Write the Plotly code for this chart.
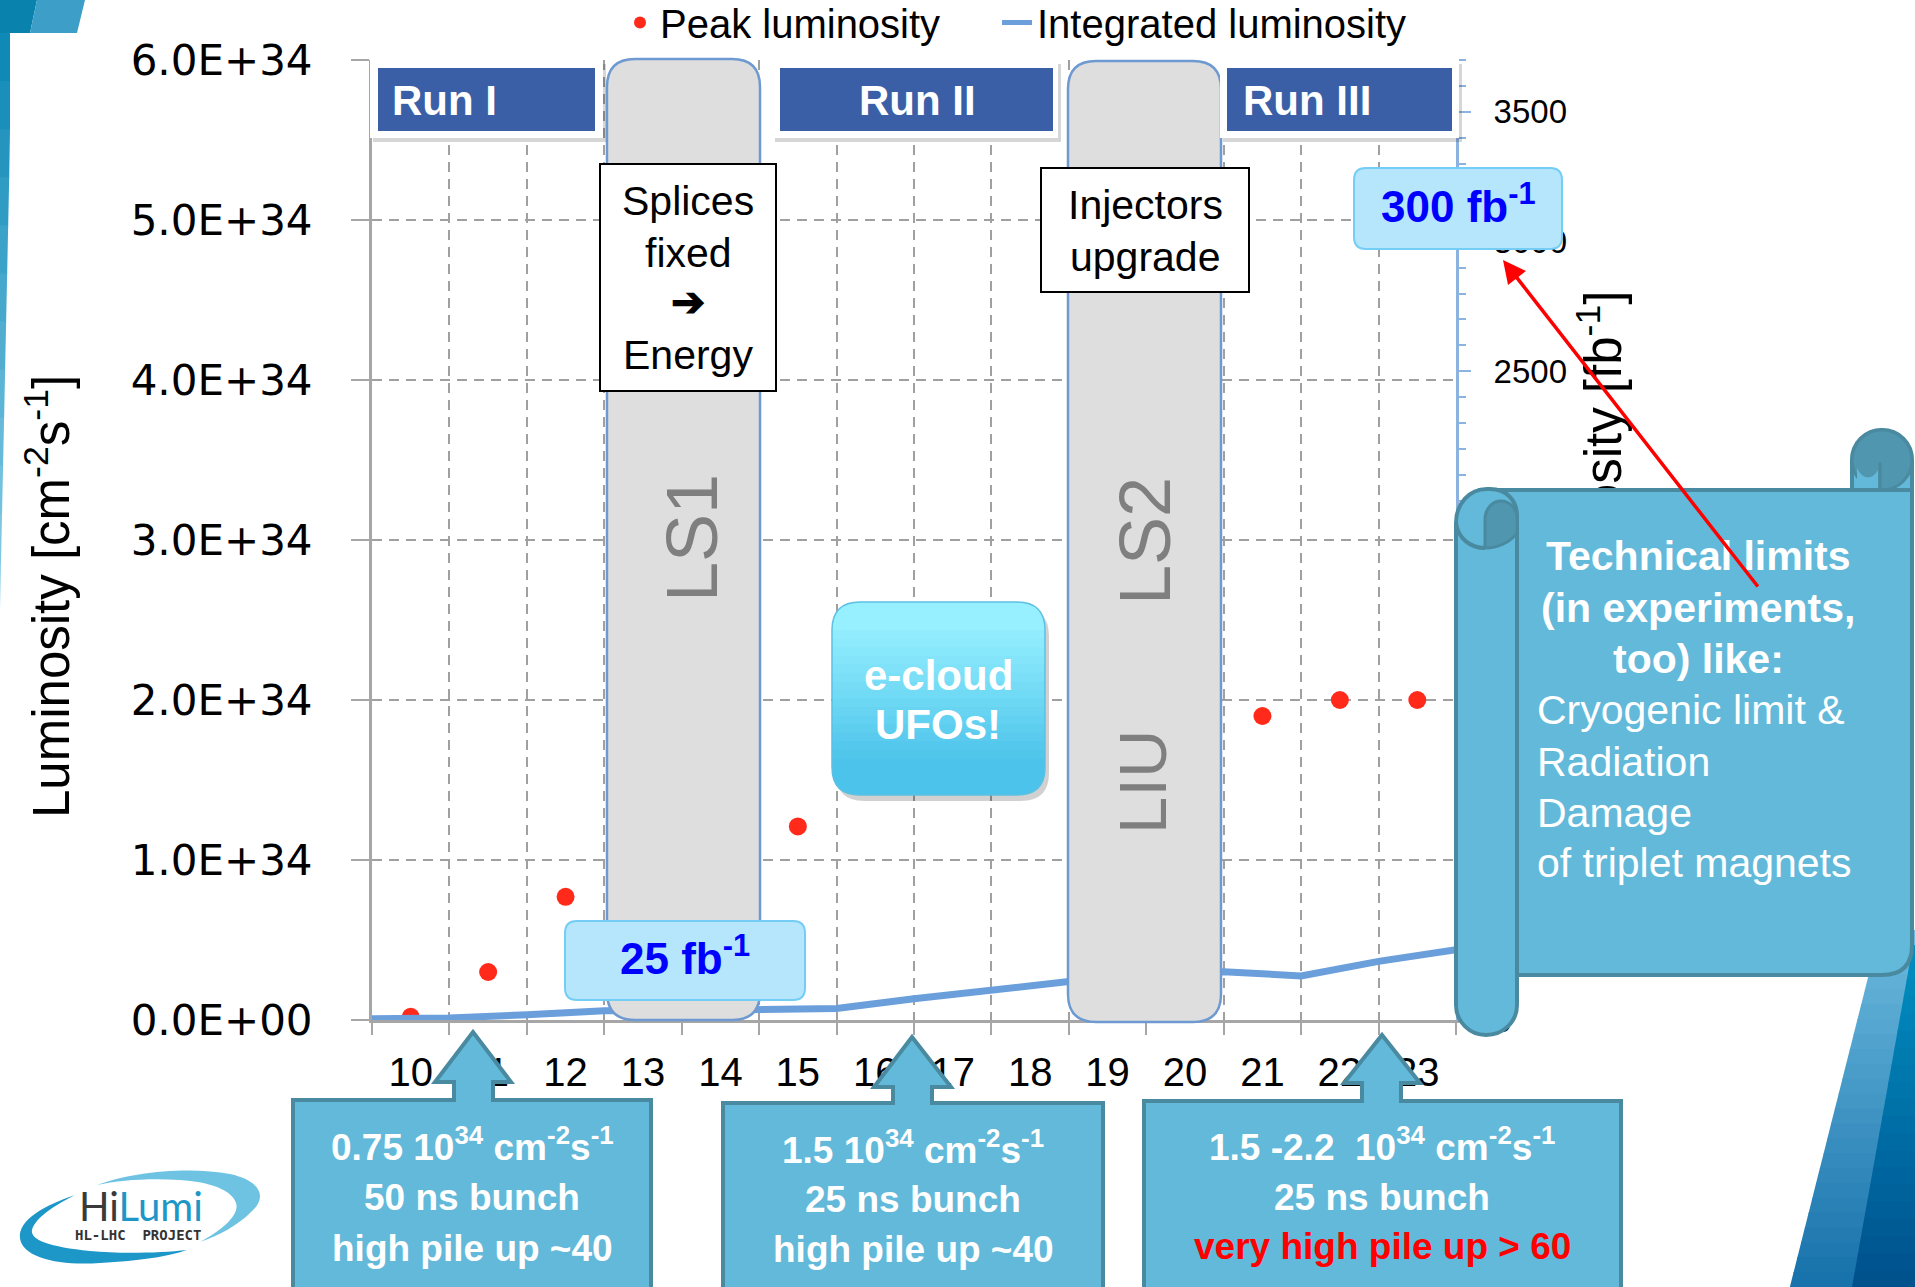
import plotly.graph_objects as go

W, H = 1915, 1287

# ---------------- data ----------------
years = list(range(10, 24))
year_labels = [str(y) for y in years]

peak_years = [10, 11, 12, 15, 21, 22, 23]
peak_lumi = [0.02e34, 0.30e34, 0.77e34, 1.21e34, 1.90e34, 2.00e34, 2.00e34]

int_edges = [9.5, 10.5, 11.5, 12.5, 13.5, 14.5, 15.5, 16.5, 17.5, 18.5, 19.5, 20.5, 21.5, 22.5, 23.5]
int_lumi = [5, 8, 20, 36, 36, 38, 44, 82, 115, 148, 168, 186, 170, 226, 271]

lumi_tickvals = [0, 1e34, 2e34, 3e34, 4e34, 5e34, 6e34]
lumi_ticktext = ["0.0E+00", "1.0E+34", "2.0E+34", "3.0E+34", "4.0E+34", "5.0E+34", "6.0E+34"]
int_tickvals = [0, 500, 1000, 1500, 2000, 2500, 3000, 3500]
int_ticktext = [str(v) for v in int_tickvals]

# ---------------- fonts / colours ----------------
ARIAL = "Liberation Sans, Arial, sans-serif"
NARROW = "Liberation Sans Narrow, Arial Narrow, Liberation Sans, sans-serif"
DEJAVU = "DejaVu Sans, Verdana, sans-serif"

RUN_BLUE = "#3a5fa7"
CALLOUT_FILL = "#63b9d9"
CALLOUT_LINE = "#4a8aa0"
CURL_DARK = "#4f96ae"
GRID = "#a0a0a0"

# plot area in pixels
PX0, PX1, PY0, PY1 = 372, 1456, 60, 1020


def P(x, y):
    return f"{x / W:.5f},{1 - y / H:.5f}"


def path(*segs):
    out = []
    for s in segs:
        cmd, pts = s[0], s[1:]
        coords = " ".join(P(pts[i], pts[i + 1]) for i in range(0, len(pts), 2))
        out.append(cmd + coords)
    return " ".join(out)


def rrect(x0, y0, x1, y1, r):
    return path(("M", x0 + r, y0), ("L", x1 - r, y0), ("Q", x1, y0, x1, y0 + r),
                ("L", x1, y1 - r), ("Q", x1, y1, x1 - r, y1), ("L", x0 + r, y1),
                ("Q", x0, y1, x0, y1 - r), ("L", x0, y0 + r), ("Q", x0, y0, x0 + r, y0), ("Z",))


def mix(c1, c2, t):
    a = [int(c1[i:i + 2], 16) for i in (1, 3, 5)]
    b = [int(c2[i:i + 2], 16) for i in (1, 3, 5)]
    return "#" + "".join(f"{round(a[k] + (b[k] - a[k]) * t):02x}" for k in range(3))


shapes = []


def add_path(p, fill, line_color=None, lw=0):
    shapes.append(dict(type="path", xref="paper", yref="paper", path=p, fillcolor=fill,
                       line=dict(color=line_color or "rgba(0,0,0,0)", width=lw), layer="above"))


def add_rect(x0, y0, x1, y1, fill, line_color=None, lw=0):
    shapes.append(dict(type="rect", xref="paper", yref="paper", x0=x0 / W, x1=x1 / W,
                       y0=1 - y1 / H, y1=1 - y0 / H, fillcolor=fill,
                       line=dict(color=line_color or "rgba(0,0,0,0)", width=lw), layer="above"))


def add_line(x0, y0, x1, y1, color, lw):
    shapes.append(dict(type="line", xref="paper", yref="paper", x0=x0 / W, x1=x1 / W,
                       y0=1 - y0 / H, y1=1 - y1 / H, line=dict(color=color, width=lw), layer="above"))


def gradient_band(ytop, ybot, left_fn, right_fn, ctop, cbot, n):
    for k in range(n):
        ya = ytop + (ybot - ytop) * k / n
        yb = ytop + (ybot - ytop) * (k + 1) / n + (1.0 if k < n - 1 else 0)
        add_path(path(("M", left_fn(ya), ya), ("L", right_fn(ya), ya), ("L", right_fn(yb), yb),
                      ("L", left_fn(yb), yb), ("Z",)), mix(ctop, cbot, (k + 0.5) / n))


# ---- slide decoration: top-left corner and left strip ----
add_path(path(("M", 0, 0), ("L", 37, 0), ("L", 30, 33), ("L", 0, 33), ("Z",)), "#0a82ae")
add_path(path(("M", 37, 0), ("L", 85, 0), ("L", 77, 33), ("L", 30, 33), ("Z",)), "#3d9fc7")
gradient_band(33, 610, lambda y: 0,
              lambda y: 10 if y <= 140 else max(0.0, 10 - 10 * (y - 140) / 470),
              "#0a86b4", "#8dd0ea", 12)

# ---- slide decoration: bottom-right wedge ----
gradient_band(930, 1287, lambda y: 1880 - (y - 930) * 0.2524, lambda y: 1915,
              "#6cbade", "#1670aa", 24)
gradient_band(945, 1287, lambda y: min(1915, 1912 - (y - 950) * 0.178), lambda y: 1915,
              "#0090c2", "#00508c", 20)

# ---- long shutdowns ----
add_path(rrect(607, 59, 760, 1020, 28), "#dedede", "#6e9ad1", 2.5)
add_path(rrect(1068, 61, 1221, 1022, 28), "#dedede", "#6e9ad1", 2.5)

# ---- run banners ----
for (wx0, wx1, bx0, bx1) in [(370, 603, 378, 595), (772, 1058, 780, 1053), (1220, 1459, 1227, 1452)]:
    add_rect(wx0 + 3, 64, wx1 + 3, 142, "rgba(0,0,0,0.16)")
    add_rect(wx0, 60, wx1, 138, "white")
    add_rect(bx0, 68, bx1, 131, RUN_BLUE)

# ---- text boxes ----
add_rect(600, 164, 776, 391, "white", "black", 2)
add_rect(1041, 168, 1249, 292, "white", "black", 2)
add_path(rrect(565, 921, 805, 1000, 12), "#b5e6fb", "#73cdf5", 2)
add_path(rrect(1354, 168, 1562, 249, 12), "#b5e6fb", "#73cdf5", 2)

# ---- e-cloud box with vertical gradient ----
EX0, EY0, EX1, EY1, ER = 832, 602, 1045, 795, 28
add_path(rrect(EX0 + 4, EY0 + 6, EX1 + 4, EY1 + 6, ER), "rgba(0,0,0,0.18)")
add_path(rrect(EX0, EY0, EX1, EY1, ER), "#96f0ff")
NB = 16
step = (EY1 - ER - (EY0 + ER)) / NB
for k in range(NB):
    yk = EY0 + ER + k * step
    add_path(path(("M", EX0, yk), ("L", EX1, yk), ("L", EX1, EY1 - ER), ("Q", EX1, EY1, EX1 - ER, EY1),
                  ("L", EX0 + ER, EY1), ("Q", EX0, EY1, EX0, EY1 - ER), ("Z",)),
             mix("#96f0ff", "#4cc3ea", (k + 1) / NB))
add_path(rrect(EX0, EY0, EX1, EY1, ER), "rgba(0,0,0,0)", "#5cc0e4", 1.5)


# ---- upward callouts under the axis ----
def callout(x0, x1, yt, sx0, sx1, hb, hx0, hx1, tx, ty):
    add_path(path(("M", x0, 1300), ("L", x0, yt), ("L", sx0, yt), ("L", sx0, hb), ("L", hx0, hb),
                  ("L", tx, ty), ("L", hx1, hb), ("L", sx1, hb), ("L", sx1, yt), ("L", x1, yt),
                  ("L", x1, 1300), ("Z",)), CALLOUT_FILL, CALLOUT_LINE, 4)


callout(293, 651, 1100, 454, 493, 1082, 435, 511, 473, 1032)
callout(723, 1103, 1103, 893, 932, 1087, 874, 951, 912, 1037)
callout(1144, 1621, 1101, 1362, 1401, 1083, 1344, 1420, 1382, 1035)

# ---- scroll ----
add_path(path(("M", 1480, 490), ("L", 1852, 490), ("L", 1852, 460), ("C", 1852, 443, 1865, 430, 1882, 430),
              ("C", 1899, 430, 1912, 443, 1912, 460), ("L", 1912, 945), ("Q", 1912, 975, 1882, 975),
              ("L", 1480, 975), ("Z",)), CALLOUT_FILL, CALLOUT_LINE, 4)
shapes.append(dict(type="circle", xref="paper", yref="paper", x0=1852 / W, x1=1912 / W,
                   y0=1 - 490 / H, y1=1 - 430 / H, fillcolor=CURL_DARK,
                   line=dict(color=CALLOUT_LINE, width=3), layer="above"))
add_path(path(("M", 1857, 488), ("L", 1857, 468), ("C", 1862, 479, 1872, 481, 1878, 470),
              ("L", 1878, 488), ("Z",)), CALLOUT_FILL)
add_line(1880, 462, 1880, 488, CALLOUT_LINE, 3)
add_line(1852, 490, 1912, 490, CALLOUT_LINE, 4)
add_path(path(("M", 1456, 523), ("C", 1456, 504, 1469, 489, 1487, 489), ("L", 1490, 489),
              ("C", 1506, 489, 1517, 500, 1517, 516), ("L", 1517, 1005),
              ("C", 1517, 1022, 1503, 1035, 1486, 1035), ("C", 1470, 1035, 1456, 1022, 1456, 1005), ("Z",)),
         CALLOUT_FILL, CALLOUT_LINE, 4)
add_path(path(("M", 1485, 548), ("L", 1485, 520), ("C", 1485, 509, 1492, 501, 1501, 501),
              ("C", 1510, 501, 1517, 509, 1517, 518), ("L", 1517, 533), ("C", 1510, 543, 1497, 548, 1485, 548),
              ("Z",)), CURL_DARK, CALLOUT_LINE, 3)
add_path(path(("M", 1456, 523), ("C", 1458, 538, 1470, 548, 1485, 548)), "rgba(0,0,0,0)", CALLOUT_LINE, 4)

# ---- HiLumi logo swooshes ----
add_path(path(("M", 75, 1195), ("C", 45, 1205, 18, 1220, 20, 1238), ("C", 22, 1258, 60, 1266, 100, 1263),
              ("C", 140, 1261, 170, 1256, 187, 1250), ("C", 160, 1253, 120, 1254, 90, 1251),
              ("C", 50, 1247, 30, 1240, 32, 1230), ("C", 35, 1218, 55, 1205, 75, 1195), ("Z",)), "#1c97c8")
add_path(path(("M", 97, 1185), ("C", 130, 1172, 190, 1166, 230, 1174), ("C", 262, 1181, 268, 1198, 250, 1213),
              ("C", 238, 1225, 220, 1235, 200, 1242), ("C", 222, 1230, 240, 1215, 236, 1203),
              ("C", 232, 1190, 210, 1182, 180, 1180), ("C", 150, 1178, 120, 1180, 97, 1185), ("Z",)), "#6ec3e3")

# ---------------- annotations ----------------
annotations = []


def ann(text, x, y, size, color="black", family=ARIAL, angle=0, xanchor="center"):
    annotations.append(dict(text=text, x=x / W, y=1 - y / H, xref="paper", yref="paper",
                            xanchor=xanchor, yanchor="middle", showarrow=False, textangle=angle,
                            font=dict(family=family, size=size, color=color)))


ann("Luminosity [cm<sup>-2</sup>s<sup>-1</sup>]", 48, 597, 51, family=NARROW, angle=-90)

ann("<b>Run I</b>", 390, 100, 42, "white", xanchor="left")
ann("<b>Run II</b>", 917, 100, 42, "white")
ann("<b>Run III</b>", 1241, 100, 42, "white", xanchor="left")

for txt, yy in [("Splices", 201), ("fixed", 253), ("<b>➔</b>", 302), ("Energy", 355)]:
    ann(txt, 688, yy, 41)
ann("Injectors", 1145, 205, 41)
ann("upgrade", 1145, 257, 41)

ann("<b>25 fb<sup>-1</sup></b>", 685, 955, 44, "#0000ff")
ann("<b>300 fb<sup>-1</sup></b>", 1458, 203, 44, "#0000ff")

ann("<b>e-cloud</b>", 938, 675, 42, "white")
ann("<b>UFOs!</b>", 938, 725, 42, "white")

ann("LS1", 692, 538, 72, "#7f7f7f", family=NARROW, angle=-90)
ann("LS2", 1145, 541, 72, "#7f7f7f", family=NARROW, angle=-90)
ann("LIU", 1142, 782, 67, "#7f7f7f", family=NARROW, angle=-90)

for txt, yy in [("<b>Technical limits</b>", 556), ("<b>(in experiments,</b>", 608), ("<b>too) like:</b>", 659)]:
    ann(txt, 1698, yy, 41, "white")
for txt, yy in [("Cryogenic limit &amp;", 710), ("Radiation", 762), ("Damage", 813), ("of triplet magnets", 863)]:
    ann(txt, 1535, yy, 41, "white", xanchor="left")

box_lines = [
    (472, [("<b>0.75 10<sup>34</sup> cm<sup>-2</sup>s<sup>-1</sup></b>", 1144, "white"),
           ("<b>50 ns bunch</b>", 1197, "white"), ("<b>high pile up ~40</b>", 1248, "white")]),
    (913, [("<b>1.5 10<sup>34</sup> cm<sup>-2</sup>s<sup>-1</sup></b>", 1147, "white"),
           ("<b>25 ns bunch</b>", 1199, "white"), ("<b>high pile up ~40</b>", 1249, "white")]),
    (1382, [("<b>1.5 -2.2  10<sup>34</sup> cm<sup>-2</sup>s<sup>-1</sup></b>", 1144, "white"),
            ("<b>25 ns bunch</b>", 1197, "white"), ("<b>very high pile up &gt; 60</b>", 1246, "#ff0000")]),
]
for cx, lines in box_lines:
    for txt, yy, col in lines:
        ann(txt, cx, yy, 37, col)

ann("<span style='color:#3a3a3a'>Hi</span><span style='color:#1e96c8'>Lumi</span>", 141, 1206, 40,
    family="Lato, Liberation Sans, sans-serif")
ann("<b>HL-LHC  PROJECT</b>", 138, 1235, 14, "#333333", family="DejaVu Sans Mono, monospace")

# red pointer from the scroll to the 300 fb-1 target
annotations.append(dict(text="", x=1503 / W, y=1 - 260 / H, xref="paper", yref="paper",
                        ax=256, ay=328, showarrow=True, arrowhead=2, arrowsize=1.3, arrowwidth=3.5,
                        arrowcolor="#ff0000", standoff=0))

# ---------------- traces ----------------
fig = go.Figure()
fig.add_trace(go.Scatter(x=peak_years, y=peak_lumi, mode="markers", name="Peak luminosity",
                         marker=dict(color="#ff2a1a", size=18), hoverinfo="skip", legend="legend"))
fig.add_trace(go.Scatter(x=int_edges, y=int_lumi, mode="lines", name="Integrated luminosity",
                         line=dict(color="#6a9fdc", width=7), yaxis="y2", hoverinfo="skip",
                         legend="legend2"))
fig.add_trace(go.Scatter(x=[None], y=[None], yaxis="y3", showlegend=False, hoverinfo="skip"))

legend_style = dict(orientation="h", xanchor="left", y=1 + 10 / H, yanchor="top",
                    font=dict(family=ARIAL, size=40, color="black"), itemsizing="constant",
                    bgcolor="rgba(0,0,0,0)")

fig.update_layout(
    width=W, height=H,
    margin=dict(l=0, r=0, t=0, b=0, autoexpand=False),
    paper_bgcolor="white", plot_bgcolor="white",
    font=dict(family=ARIAL, color="black"),
    hovermode=False,
    xaxis=dict(domain=[PX0 / W, PX1 / W], range=[9.5, 23.5], tickmode="array", tickvals=years,
               ticktext=year_labels, ticks="", showgrid=False, zeroline=False, showline=True,
               linecolor="#a6a6a6", linewidth=3, ticklabelstandoff=15,
               tickfont=dict(family=ARIAL, size=40, color="black"),
               minor=dict(tick0=9.5, dtick=1, ticks="outside", ticklen=12, tickwidth=2, tickcolor="#a6a6a6",
                          showgrid=True, gridcolor=GRID, gridwidth=2, griddash="10px,7px")),
    yaxis=dict(domain=[1 - PY1 / H, 1 - PY0 / H], range=[0, 6e34], tickmode="array",
               tickvals=lumi_tickvals, ticktext=lumi_ticktext, ticks="outside", ticklen=18, tickwidth=2,
               tickcolor="#a6a6a6", showgrid=True, gridcolor=GRID, gridwidth=2, griddash="10px,7px",
               zeroline=False, showline=True, linecolor="#a6a6a6", linewidth=3, ticklabelstandoff=30,
               tickfont=dict(family=DEJAVU, size=42, color="black")),
    yaxis2=dict(overlaying="y", side="right", anchor="x", range=[0, 3700], tickmode="array",
                tickvals=int_tickvals, ticktext=int_ticktext, ticks="outside", ticklen=12, tickwidth=2,
                tickcolor="#8cb2e0", showgrid=False, zeroline=False, showline=True, linecolor="#8cb2e0",
                linewidth=3, ticklabelstandoff=16, tickfont=dict(family=ARIAL, size=33, color="black"),
                minor=dict(dtick=100, ticks="outside", ticklen=7, tickwidth=2, tickcolor="#8cb2e0")),
    yaxis3=dict(overlaying="y", anchor="free", position=1569 / W, side="right", range=[0, 1],
                tickmode="array", tickvals=[0.446], ticktext=["Integrated luminosity [fb<sup>-1</sup>]"],
                tickangle=-90, ticks="", showgrid=False, zeroline=False, showline=False,
                tickfont=dict(family=NARROW, size=51, color="black")),
    legend=dict(legend_style, x=620 / W),
    legend2=dict(legend_style, x=997 / W),
    shapes=shapes,
    annotations=annotations,
)

fig.write_html("out.html")
